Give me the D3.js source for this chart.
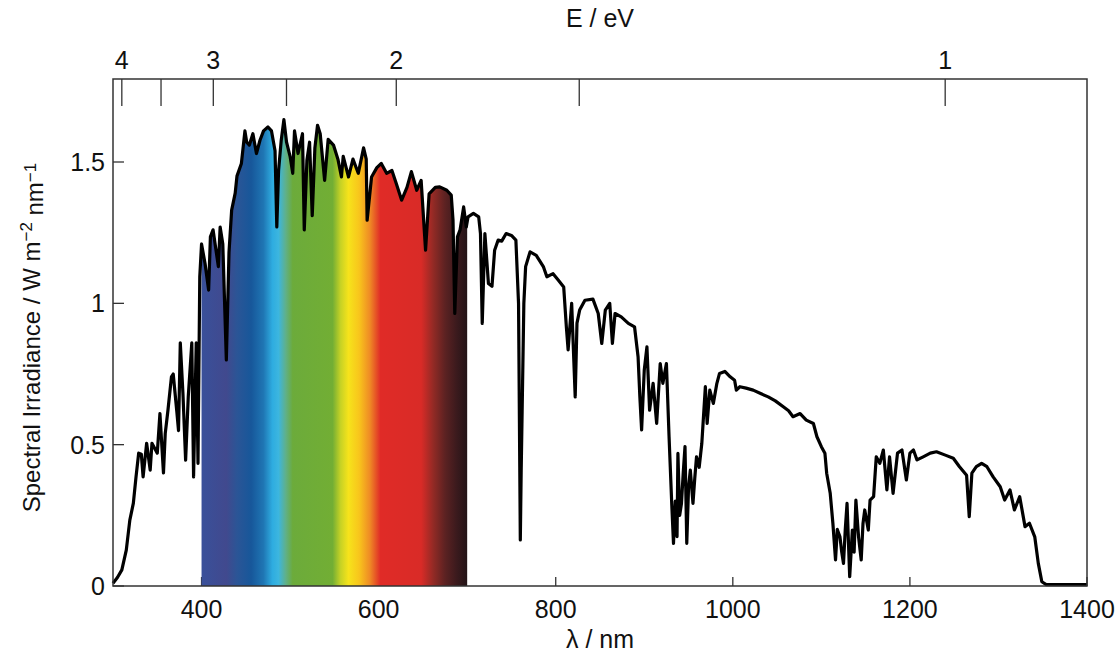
<!DOCTYPE html>
<html>
<head>
<meta charset="utf-8">
<script src="https://cdn.jsdelivr.net/npm/d3@7"></script>
<style>
  body { margin: 0; background: #fff; }
  svg text { font-family: "Liberation Sans", Arial, Helvetica, sans-serif; fill: #111; }
</style>
</head>
<body>
<div id="chart"></div>
<script>

// solar spectrum (nm, W m-2 nm-1)
var wavelength = [300, 305, 310, 315, 319, 323, 326, 329, 332, 334, 338, 342, 344, 350, 353, 357, 359, 362, 366, 368, 372, 374, 376, 379, 382, 385, 389, 391, 394, 396, 398,
    400, 404, 408, 410, 413, 419, 421, 424, 428, 431, 434, 438, 440, 445, 449, 451, 454, 458, 462, 466, 470, 475, 479, 483, 485, 487, 490, 493, 496,
    500, 503, 505, 509, 514, 516, 519, 522, 525, 528, 531, 534, 539, 543, 549, 554, 558, 560, 566, 571, 577, 583, 586, 587, 592, 598, 603, 609, 615, 620, 626, 632, 637, 643, 648, 653, 657, 664, 669, 677, 682, 684, 686, 689, 692, 696, 699,
    701, 707, 713, 715, 717, 720, 724, 728, 731, 735, 739, 744, 750, 755, 758, 760, 761, 764, 766, 771, 778, 786, 790, 797,
    803, 809, 812, 814, 818, 822, 824, 827, 833, 842, 848, 852, 856, 861, 864, 867, 874, 882, 889, 893, 895, 897, 900,
    903, 906, 910, 914, 918, 921, 925, 928, 931, 933, 935, 937, 938, 940, 942, 944, 946, 948, 950, 952, 955, 957, 959, 962, 965, 969, 971, 974, 978, 982, 985, 991, 997,
    1002, 1004, 1008, 1015, 1023, 1032, 1040, 1048, 1057, 1063, 1068, 1076, 1083, 1091, 1095,
    1100, 1104, 1106, 1110, 1113, 1116, 1118, 1121, 1123, 1125, 1127, 1129, 1132, 1135, 1137, 1139, 1142, 1145, 1147, 1149, 1153, 1155, 1159, 1162, 1166, 1170, 1174, 1177, 1181, 1186, 1191, 1196,
    1200, 1204, 1208, 1215, 1223, 1230, 1240, 1249, 1256, 1264, 1267, 1270, 1275, 1281, 1287, 1294,
    1302, 1307, 1313, 1318, 1324, 1330, 1335, 1341, 1345, 1349, 1354, 1400];

var irradiance = [0.01, 0.03, 0.057, 0.127, 0.233, 0.293, 0.386, 0.47, 0.466, 0.386, 0.505, 0.41, 0.505, 0.47, 0.61, 0.40, 0.54, 0.62, 0.74, 0.75, 0.62, 0.55, 0.86, 0.68, 0.445, 0.67, 0.86, 0.386, 0.86, 0.434, 1.094,
    1.21, 1.14, 1.047, 1.235, 1.26, 1.13, 1.27, 1.21, 0.80, 1.18, 1.33, 1.39, 1.45, 1.495, 1.61, 1.57, 1.56, 1.60, 1.53, 1.577, 1.61, 1.624, 1.61, 1.54, 1.27, 1.47, 1.577, 1.65, 1.57,
    1.52, 1.46, 1.61, 1.53, 1.60, 1.26, 1.506, 1.57, 1.31, 1.55, 1.63, 1.60, 1.435, 1.58, 1.56, 1.51, 1.447, 1.52, 1.447, 1.51, 1.46, 1.55, 1.51, 1.294, 1.447, 1.48, 1.495, 1.46, 1.47, 1.423, 1.365, 1.41, 1.466, 1.40, 1.435, 1.188, 1.387, 1.41, 1.412, 1.40, 1.383, 1.294, 0.964, 1.235, 1.26, 1.341, 1.27,
    1.306, 1.318, 1.306, 1.247, 0.929, 1.247, 1.07, 1.06, 1.188, 1.224, 1.22, 1.247, 1.24, 1.224, 1.0, 0.163, 0.41, 1.0, 1.13, 1.182, 1.17, 1.13, 1.094, 1.105,
    1.082, 1.058, 0.917, 0.835, 1.0, 0.669, 0.93, 0.976, 1.011, 1.015, 0.964, 0.858, 0.976, 1.0, 0.858, 0.964, 0.952, 0.929, 0.917, 0.811, 0.67, 0.552, 0.764,
    0.846, 0.622, 0.717, 0.575, 0.787, 0.717, 0.787, 0.528, 0.292, 0.151, 0.30, 0.175, 0.469, 0.25, 0.292, 0.40, 0.493, 0.151, 0.35, 0.41, 0.292, 0.38, 0.457, 0.42, 0.505, 0.705, 0.575, 0.693, 0.646, 0.717, 0.752, 0.759, 0.74,
    0.728, 0.693, 0.705, 0.70, 0.693, 0.68, 0.669, 0.655, 0.634, 0.62, 0.599, 0.61, 0.587, 0.575, 0.528,
    0.493, 0.47, 0.399, 0.328, 0.222, 0.092, 0.20, 0.174, 0.12, 0.08, 0.20, 0.292, 0.033, 0.198, 0.12, 0.304, 0.174, 0.092, 0.22, 0.269, 0.198, 0.304, 0.316, 0.457, 0.434, 0.481, 0.34, 0.457, 0.328, 0.47, 0.481, 0.375,
    0.47, 0.481, 0.446, 0.457, 0.47, 0.475, 0.463, 0.452, 0.422, 0.392, 0.245, 0.399, 0.422, 0.434, 0.422, 0.386,
    0.351, 0.304, 0.34, 0.269, 0.316, 0.21, 0.222, 0.174, 0.08, 0.015, 0.005, 0.005];

// rainbow under the visible part
var stopNm = [400, 428, 440, 456, 470, 480, 487, 495, 503, 548, 557, 566, 578, 590, 602, 648, 662, 675, 688, 700];
var stopColor = ["#39509a", "#41498e", "#2b5596", "#17579a", "#1f76b4", "#2eace0", "#3cb6df", "#5fb08a", "#6cab3b", "#72ae34", "#c6d225", "#f6e31b", "#f8c51c", "#ef8b25", "#e02b27", "#d92b27", "#912a25", "#5c2222", "#3b1a1d", "#231417"];

var xTicks = [400, 600, 800, 1000, 1200, 1400];
var yTicks = [0, 0.5, 1, 1.5];
var yTickLabels = ["0", "0.5", "1", "1.5"];
var eTicks = [4, 3.5, 3, 2.5, 2, 1.5, 1];
var eLabels = ["4", "", "3", "", "2", "", "1"];

var W = 1120, H = 658;
var margin = {left: 113, right: 33, top: 79, bottom: 72};

var svg = d3.select("#chart").append("svg")
    .attr("width", W)
    .attr("height", H);

var x = d3.scaleLinear().domain([300, 1400]).range([margin.left, W - margin.right]);
var y = d3.scaleLinear().range([H - margin.bottom, margin.top]);
// y(1.5) should sit near 162
y.domain([0, (y.range()[0] - margin.top) / ((y.range()[0] - 162) / 1.5)]);

var data = wavelength.map(function(d, i) { return {nm: d, v: irradiance[i]}; });

var defs = svg.append("defs");
var grad = defs.append("linearGradient")
    .attr("id", "rainbow")
    .attr("gradientUnits", "userSpaceOnUse")
    .attr("x1", x(400)).attr("x2", x(700))
    .attr("y1", 0).attr("y2", 0);
grad.selectAll("stop")
    .data(stopNm)
    .enter().append("stop")
    .attr("offset", function(d) { return (d - 400) / 300; })
    .attr("stop-color", function(d, i) { return stopColor[i]; });

defs.append("clipPath").attr("id", "visible")
    .append("rect")
    .attr("x", x(400)).attr("y", margin.top)
    .attr("width", x(700) - x(400))
    .attr("height", y(0) - margin.top);

// ticks on the inside
var gBottom = svg.append("g").attr("transform", "translate(0," + y(0) + ")");
gBottom.selectAll("line").data(xTicks).enter().append("line")
    .attr("x1", x).attr("x2", x)
    .attr("y1", 0).attr("y2", -9)
    .attr("stroke", "#333").attr("stroke-width", 1.3);
gBottom.selectAll("text").data(xTicks).enter().append("text")
    .attr("x", x).attr("y", 32)
    .attr("text-anchor", "middle")
    .attr("font-size", "25px")
    .text(function(d) { return d; });

var gLeft = svg.append("g").attr("transform", "translate(" + margin.left + ",0)");
gLeft.selectAll("line").data(yTicks).enter().append("line")
    .attr("x1", 0).attr("x2", 11)
    .attr("y1", y).attr("y2", y)
    .attr("stroke", "#333").attr("stroke-width", 1.3);
gLeft.selectAll("text").data(yTicks).enter().append("text")
    .attr("x", -8).attr("y", y).attr("dy", "0.36em")
    .attr("text-anchor", "end")
    .attr("font-size", "25px")
    .text(function(d, i) { return yTickLabels[i]; });

var gTop = svg.append("g").attr("transform", "translate(0," + margin.top + ")");
gTop.selectAll("line").data(eTicks).enter().append("line")
    .attr("x1", function(d) { return x(1239.84 / d); })
    .attr("x2", function(d) { return x(1239.84 / d); })
    .attr("y1", 0).attr("y2", 27)
    .attr("stroke", "#333").attr("stroke-width", 1.3);
gTop.selectAll("text").data(eTicks).enter().append("text")
    .attr("x", function(d) { return x(1239.84 / d); })
    .attr("y", -10)
    .attr("text-anchor", "middle")
    .attr("font-size", "25px")
    .text(function(d, i) { return eLabels[i]; });

// rainbow fill under the curve
var area = d3.area()
    .x(function(d) { return x(d.nm); })
    .y0(y(0))
    .y1(function(d) { return y(d.v); });
svg.append("path")
    .datum(data)
    .attr("clip-path", "url(#visible)")
    .attr("fill", "url(#rainbow)")
    .attr("d", area);

var line = d3.line()
    .x(function(d) { return x(d.nm); })
    .y(function(d) { return y(d.v); });
svg.append("path")
    .datum(data)
    .attr("fill", "none")
    .attr("stroke", "#000")
    .attr("stroke-width", 3.2)
    .attr("stroke-linejoin", "round")
    .attr("d", line);

// frame
svg.append("rect")
    .attr("x", margin.left).attr("y", margin.top)
    .attr("width", x(1400) - margin.left)
    .attr("height", y(0) - margin.top)
    .attr("fill", "none")
    .attr("stroke", "#333").attr("stroke-width", 1.5);

// titles
svg.append("text")
    .attr("x", (x(300) + x(1400)) / 2).attr("y", 648)
    .attr("text-anchor", "middle")
    .attr("font-size", "25px")
    .text("λ / nm");
svg.append("text")
    .attr("x", (x(300) + x(1400)) / 2).attr("y", 27)
    .attr("text-anchor", "middle")
    .attr("font-size", "25px")
    .text("E / eV");

var ylab = svg.append("text")
    .attr("transform", "translate(40," + (y(0) + margin.top + 10) / 2 + ") rotate(-90)")
    .attr("text-anchor", "middle")
    .attr("font-size", "24px");
ylab.append("tspan").text("Spectral Irradiance / W m");
ylab.append("tspan").attr("dy", "-0.45em").attr("font-size", "17px").text("−2");
ylab.append("tspan").attr("dy", "0.45em").text(" nm");
ylab.append("tspan").attr("dy", "-0.45em").attr("font-size", "17px").text("−1");

</script>
</body>
</html>
